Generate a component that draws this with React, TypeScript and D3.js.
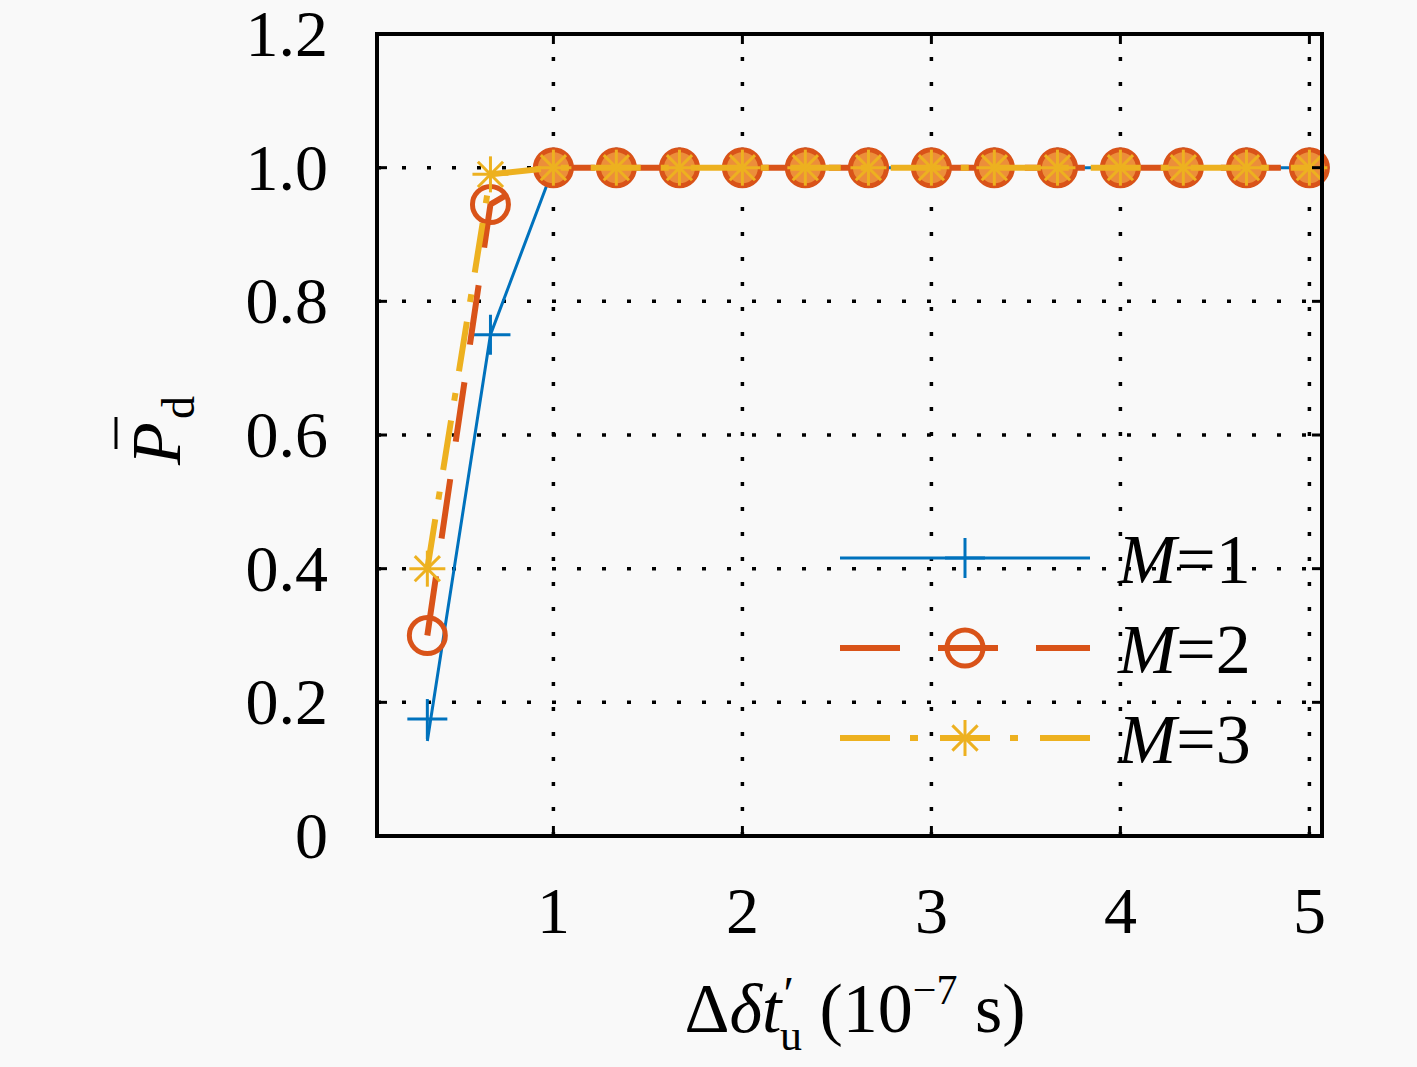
import React from "react";
import * as d3 from "d3";

const xValues = [0.333, 0.667, 1, 1.333, 1.667, 2, 2.333, 2.667, 3, 3.333, 3.667, 4, 4.333, 4.667, 5];
const m1Markers = [0.175, 0.75, 1, 1, 1, 1, 1, 1, 1, 1, 1, 1, 1, 1, 1];
const m1Line = [0.142, 0.75, 1, 1, 1, 1, 1, 1, 1, 1, 1, 1, 1, 1, 1];
const m2Values = [0.3, 0.945, 1, 1, 1, 1, 1, 1, 1, 1, 1, 1, 1, 1, 1];
const m3Values = [0.4, 0.99, 1, 1, 1, 1, 1, 1, 1, 1, 1, 1, 1, 1, 1];
const xTicks = [1, 2, 3, 4, 5];
const yTicks = [0, 0.2, 0.4, 0.6, 0.8, 1.0, 1.2];
const yTickLabels = ["0", "0.2", "0.4", "0.6", "0.8", "1.0", "1.2"];
const legendLabels = ["1", "2", "3"];

const C1 = "#0072BD";
const C2 = "#D95319";
const C3 = "#EDB120";

const W = 1417;
const H = 1067;
const L = 377, R = 1322, T = 34, B = 836;
const FONT = "'Liberation Serif', 'DejaVu Serif', serif";

const x = d3.scaleLinear().domain([1 / 15, 5 + 1 / 15]).range([L, R]);
const y = d3.scaleLinear().domain([0, 1.2]).range([B, T]);

const Plus = ({ cx, cy, s = 20, color = C1, w = 3 }: any) => (
  <g stroke={color} strokeWidth={w}>
    <line x1={cx - s} x2={cx + s} y1={cy} y2={cy} />
    <line x1={cx} x2={cx} y1={cy - s} y2={cy + s} />
  </g>
);

const Star = ({ cx, cy, s = 18, color = C3, w = 3 }: any) => {
  const d = s * 0.7;
  return (
    <g stroke={color} strokeWidth={w}>
      <line x1={cx - s} x2={cx + s} y1={cy} y2={cy} />
      <line x1={cx} x2={cx} y1={cy - s} y2={cy + s} />
      <line x1={cx - d} x2={cx + d} y1={cy - d} y2={cy + d} />
      <line x1={cx - d} x2={cx + d} y1={cy + d} y2={cy - d} />
    </g>
  );
};

const Circ = ({ cx, cy, r = 18, filled = false }: any) => (
  <circle cx={cx} cy={cy} r={r} fill={filled ? "#EC8E3A" : "none"} stroke={C2} strokeWidth={5} />
);

export default function App() {
  const line = d3
    .line<number>()
    .x((_, i) => x(xValues[i]))
    .y((v) => y(v));

  const legendY = [558, 648, 738];
  const lx1 = 840, lx2 = 1090, lmx = 965;

  return (
    <svg
      width={W}
      height={H}
      style={{ position: "absolute", left: 0, top: 0, background: "#f9f9f9" }}
      fontFamily={FONT}
    >
      <rect x={0} y={0} width={W} height={H} fill="#f9f9f9" />
      {/* grid */}
      <g stroke="#000" strokeWidth={3.5} strokeDasharray="4,21">
        {yTicks.slice(1, -1).map((t) => (
          <line key={"gy" + t} x1={L} x2={R} y1={y(t)} y2={y(t)} />
        ))}
        {xTicks.map((t) => (
          <line key={"gx" + t} x1={x(t)} x2={x(t)} y1={B} y2={T} />
        ))}
      </g>

      {/* series M=1 */}
      <path d={line(m1Line) || ""} fill="none" stroke={C1} strokeWidth={3} />
      {m1Markers.map((v, i) => (
        <Plus key={"p" + i} cx={x(xValues[i])} cy={y(v)} />
      ))}
      {/* series M=2 */}
      <path d={line(m2Values) || ""} fill="none" stroke={C2} strokeWidth={6} strokeDasharray="60,38" />
      {m2Values.map((v, i) => (
        <Circ key={"c" + i} cx={x(xValues[i])} cy={y(v)} filled={v >= 1} />
      ))}
      {/* series M=3 */}
      <path d={line(m3Values) || ""} fill="none" stroke={C3} strokeWidth={6} strokeDasharray="50,20,8,22" />
      {m3Values.map((v, i) => (
        <Star key={"s" + i} cx={x(xValues[i])} cy={y(v)} />
      ))}

      {/* axes box */}
      <rect x={L} y={T} width={R - L} height={B - T} fill="none" stroke="#000" strokeWidth={4} />
      <g stroke="#000" strokeWidth={3}>
        {yTicks.slice(1, -1).map((t) => (
          <g key={"ty" + t}>
            <line x1={L} x2={L + 10} y1={y(t)} y2={y(t)} />
            <line x1={R} x2={R - 10} y1={y(t)} y2={y(t)} />
          </g>
        ))}
        {xTicks.map((t) => (
          <g key={"tx" + t}>
            <line x1={x(t)} x2={x(t)} y1={B} y2={B - 10} />
            <line x1={x(t)} x2={x(t)} y1={T} y2={T + 10} />
          </g>
        ))}
      </g>

      {/* tick labels */}
      <g fontSize={66} fill="#000">
        {yTicks.map((t, i) => (
          <text key={"yl" + t} x={328} y={y(t) + 22} textAnchor="end">
            {yTickLabels[i]}
          </text>
        ))}
        {xTicks.map((t) => (
          <text key={"xl" + t} x={x(t)} y={933} textAnchor="middle">
            {t}
          </text>
        ))}
      </g>

      {/* x label */}
      <text x={855} y={1032} textAnchor="middle" fontSize={70} fill="#000">
        <tspan>Δ</tspan>
        <tspan fontStyle="italic">δt</tspan>
        <tspan fontSize={48} dx={2} dy={-22}>′</tspan>
        <tspan fontSize={44} dx={-14} dy={40}>u</tspan>
        <tspan dy={-18}> (10</tspan>
        <tspan fontSize={42} dy={-28}>−7</tspan>
        <tspan dy={28}> s)</tspan>
      </text>

      {/* y label */}
      <g transform="translate(180,465) rotate(-90)">
        <text x={0} y={0} fontSize={70} fontStyle="italic" fill="#000">P</text>
        <line x1={16} x2={48} y1={-64} y2={-64} stroke="#000" strokeWidth={3} />
        <text x={46} y={14} fontSize={46} fill="#000">d</text>
      </g>

      {/* legend */}
      <line x1={lx1} x2={lx2} y1={legendY[0]} y2={legendY[0]} stroke={C1} strokeWidth={3} />
      <Plus cx={lmx} cy={legendY[0]} />
      <line x1={lx1} x2={lx2} y1={legendY[1]} y2={legendY[1]} stroke={C2} strokeWidth={6} strokeDasharray="60,38" />
      <Circ cx={lmx} cy={legendY[1]} />
      <line x1={lx1} x2={lx2} y1={legendY[2]} y2={legendY[2]} stroke={C3} strokeWidth={6} strokeDasharray="50,20,8,22" />
      <Star cx={lmx} cy={legendY[2]} />
      <g fontSize={70} fill="#000">
        {legendLabels.map((lab, i) => (
          <text key={"lg" + i} x={1118} y={legendY[i] + 25}>
            <tspan fontStyle="italic">M</tspan>
            <tspan>={lab}</tspan>
          </text>
        ))}
      </g>
    </svg>
  );
}
